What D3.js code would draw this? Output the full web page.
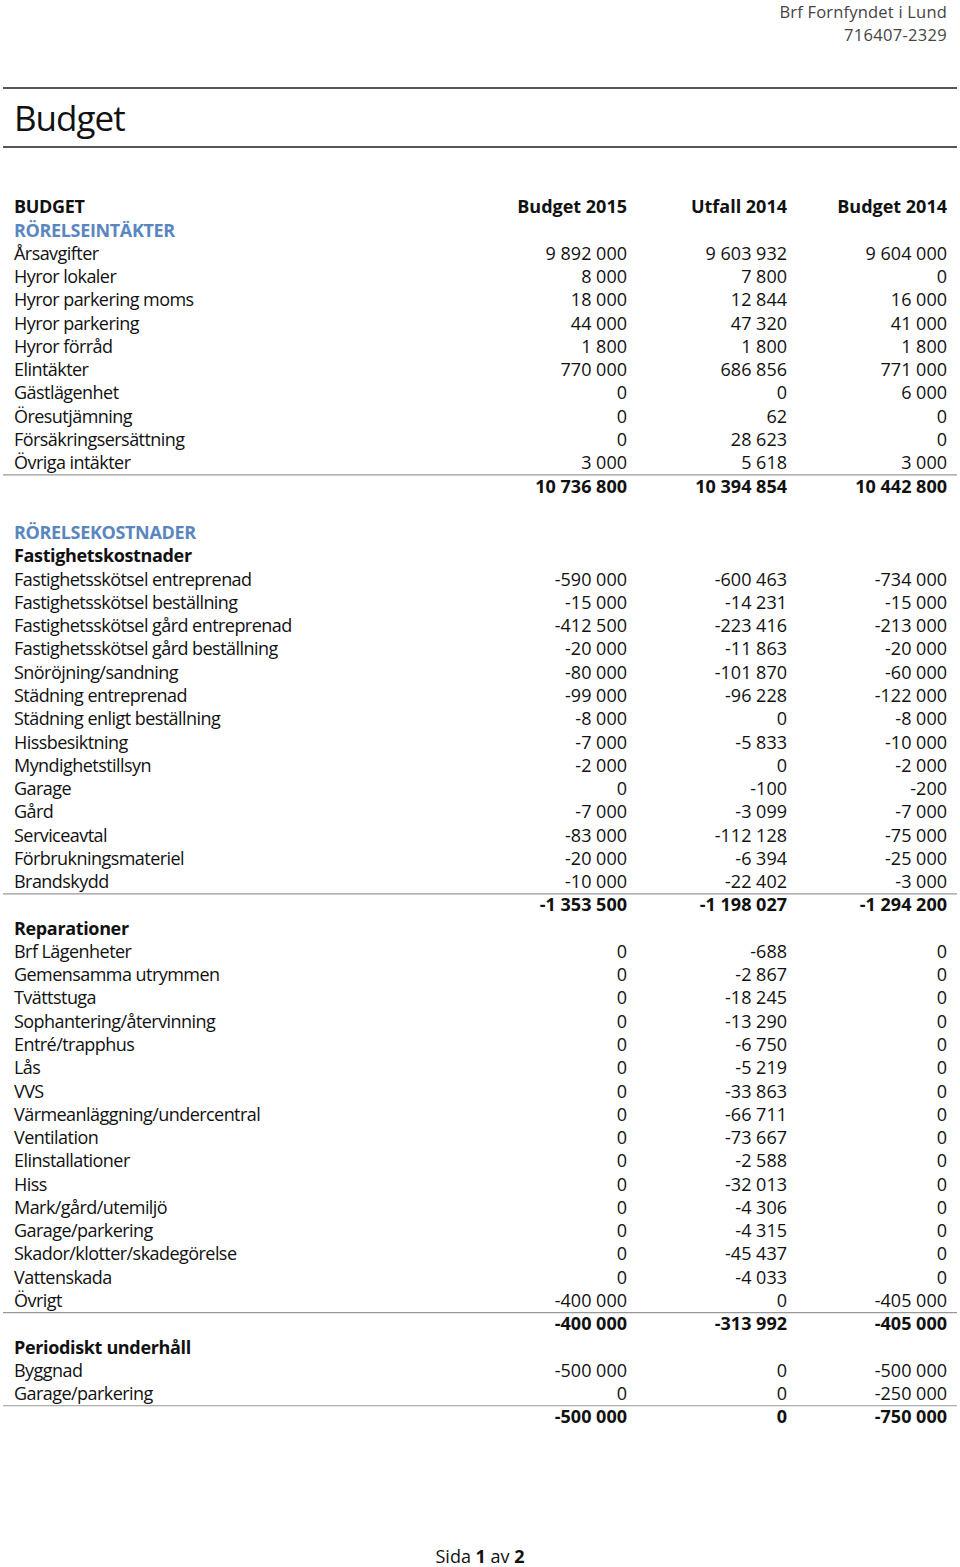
<html>
<head>
<meta charset="utf-8">
<title>Budget</title>
<script src="https://cdn.jsdelivr.net/npm/d3@7"></script>
<style>
  body { margin: 0; background: #fff; }
  text { font-family: "Open Sans", "Noto Sans", sans-serif; }
</style>
</head>
<body>
<div id="page"></div>
<script>
// column headers
var columns = ["Budget 2015", "Utfall 2014", "Budget 2014"];

// RÖRELSEINTÄKTER
var incomeLabels = ["Årsavgifter", "Hyror lokaler", "Hyror parkering moms", "Hyror parkering",
  "Hyror förråd", "Elintäkter", "Gästlägenhet", "Öresutjämning", "Försäkringsersättning", "Övriga intäkter"];
var incomeB2015 = [9892000, 8000, 18000, 44000, 1800, 770000, 0, 0, 0, 3000];
var incomeU2014 = [9603932, 7800, 12844, 47320, 1800, 686856, 0, 62, 28623, 5618];
var incomeB2014 = [9604000, 0, 16000, 41000, 1800, 771000, 6000, 0, 0, 3000];
var incomeTotal = [10736800, 10394854, 10442800];

// Fastighetskostnader
var propLabels = ["Fastighetsskötsel entreprenad", "Fastighetsskötsel beställning",
  "Fastighetsskötsel gård entreprenad", "Fastighetsskötsel gård beställning", "Snöröjning/sandning",
  "Städning entreprenad", "Städning enligt beställning", "Hissbesiktning", "Myndighetstillsyn",
  "Garage", "Gård", "Serviceavtal", "Förbrukningsmateriel", "Brandskydd"];
var propB2015 = [-590000, -15000, -412500, -20000, -80000, -99000, -8000, -7000, -2000, 0, -7000, -83000, -20000, -10000];
var propU2014 = [-600463, -14231, -223416, -11863, -101870, -96228, 0, -5833, 0, -100, -3099, -112128, -6394, -22402];
var propB2014 = [-734000, -15000, -213000, -20000, -60000, -122000, -8000, -10000, -2000, -200, -7000, -75000, -25000, -3000];
var propTotal = [-1353500, -1198027, -1294200];

// Reparationer
var repLabels = ["Brf Lägenheter", "Gemensamma utrymmen", "Tvättstuga", "Sophantering/återvinning",
  "Entré/trapphus", "Lås", "VVS", "Värmeanläggning/undercentral", "Ventilation", "Elinstallationer",
  "Hiss", "Mark/gård/utemiljö", "Garage/parkering", "Skador/klotter/skadegörelse", "Vattenskada", "Övrigt"];
var repB2015 = [0, 0, 0, 0, 0, 0, 0, 0, 0, 0, 0, 0, 0, 0, 0, -400000];
var repU2014 = [-688, -2867, -18245, -13290, -6750, -5219, -33863, -66711, -73667, -2588, -32013, -4306, -4315, -45437, -4033, 0];
var repB2014 = [0, 0, 0, 0, 0, 0, 0, 0, 0, 0, 0, 0, 0, 0, 0, -405000];
var repTotal = [-400000, -313992, -405000];

// Periodiskt underhåll
var maintLabels = ["Byggnad", "Garage/parkering"];
var maintB2015 = [-500000, 0];
var maintU2014 = [0, 0];
var maintB2014 = [-500000, -250000];
var maintTotal = [-500000, 0, -750000];

var width = 960, height = 1567;
var blue = "#5a86bf";

var svg = d3.select("#page").append("svg")
  .attr("width", width)
  .attr("height", height);

var fmt = d3.formatLocale({ decimal: ",", thousands: "\u00a0", grouping: [3], currency: ["", ""], minus: "-" }).format(",d");

// build rows
var rows = [];
rows.push({ type: "head", label: "BUDGET" });
rows.push({ type: "section", label: "RÖRELSEINTÄKTER" });
function addItems(labels, a, b, c) {
  labels.forEach(function(l, i) { rows.push({ type: "item", label: l, values: [a[i], b[i], c[i]] }); });
  rows[rows.length - 1].rule = true;
}
addItems(incomeLabels, incomeB2015, incomeU2014, incomeB2014);
rows.push({ type: "total", values: incomeTotal });
rows.push({ type: "blank" });
rows.push({ type: "section", label: "RÖRELSEKOSTNADER" });
rows.push({ type: "group", label: "Fastighetskostnader" });
addItems(propLabels, propB2015, propU2014, propB2014);
rows.push({ type: "total", values: propTotal });
rows.push({ type: "group", label: "Reparationer" });
addItems(repLabels, repB2015, repU2014, repB2014);
rows.push({ type: "total", values: repTotal });
rows.push({ type: "group", label: "Periodiskt underhåll" });
addItems(maintLabels, maintB2015, maintU2014, maintB2014);
rows.push({ type: "total", values: maintTotal });

var y = d3.scaleLinear().domain([0, rows.length - 1]).range([207, 1417]);
var x = d3.scaleOrdinal().domain(columns).range([627, 787, 947]);
var fs = 18;

// page header
svg.append("text").attr("x", 947).attr("y", 18)
  .attr("text-anchor", "end").attr("font-size", 16.5).attr("fill", "#444")
  .attr("letter-spacing", 0.2)
  .text("Brf Fornfyndet i Lund");
svg.append("text").attr("x", 947).attr("y", 41)
  .attr("text-anchor", "end").attr("font-size", 16.5).attr("fill", "#444")
  .attr("letter-spacing", 0.3)
  .text("716407-2329");

svg.selectAll("line.hr").data([88, 147]).enter().append("line")
  .attr("class", "hr")
  .attr("x1", 3).attr("x2", 957)
  .attr("y1", function(d) { return d; }).attr("y2", function(d) { return d; })
  .attr("stroke", "#555").attr("stroke-width", 2);

svg.append("text").attr("x", 14).attr("y", 131)
  .attr("font-size", 35).attr("fill", "#111").attr("letter-spacing", -1)
  .text("Budget");

// column headers
svg.selectAll("text.col").data(columns).enter().append("text")
  .attr("class", "col")
  .attr("x", function(d) { return x(d); })
  .attr("y", y(0)).attr("dy", "0.35em")
  .attr("text-anchor", "end").attr("font-size", fs).attr("font-weight", "bold").attr("fill", "#111")
  .text(function(d) { return d; });

var row = svg.selectAll("g.row").data(rows).enter().append("g")
  .attr("class", "row")
  .attr("transform", function(d, i) { return "translate(0," + y(i) + ")"; });

row.filter(function(d) { return d.label; }).append("text")
  .attr("x", 14).attr("dy", "0.35em")
  .attr("font-size", fs)
  .attr("font-weight", function(d) { return d.type == "item" ? "normal" : "bold"; })
  .attr("letter-spacing", function(d) { return d.type == "item" ? -0.55 : -0.35; })
  .attr("fill", function(d) { return d.type == "section" ? blue : "#111"; })
  .text(function(d) { return d.label; });

row.filter(function(d) { return d.values; }).selectAll("text.val")
  .data(function(d) { return d.values.map(function(v, j) { return { v: v, col: columns[j], bold: d.type == "total" }; }); })
  .enter().append("text")
  .attr("class", "val")
  .attr("x", function(d) { return x(d.col); })
  .attr("dy", "0.35em")
  .attr("text-anchor", "end")
  .attr("font-size", fs)
  .attr("font-weight", function(d) { return d.bold ? "bold" : "normal"; })
  .attr("fill", "#111")
  .text(function(d) { return fmt(d.v); });

row.filter(function(d) { return d.rule; }).append("line")
  .attr("x1", 3).attr("x2", 957).attr("y1", 12).attr("y2", 12)
  .attr("stroke", "#999").attr("stroke-width", 1.2);

// footer
var foot = svg.append("text").attr("x", 480).attr("y", 1557).attr("dy", "0.35em")
  .attr("text-anchor", "middle").attr("font-size", fs).attr("fill", "#111");
foot.append("tspan").text("Sida ");
foot.append("tspan").attr("font-weight", "bold").text("1");
foot.append("tspan").text(" av ");
foot.append("tspan").attr("font-weight", "bold").text("2");
</script>
</body>
</html>
